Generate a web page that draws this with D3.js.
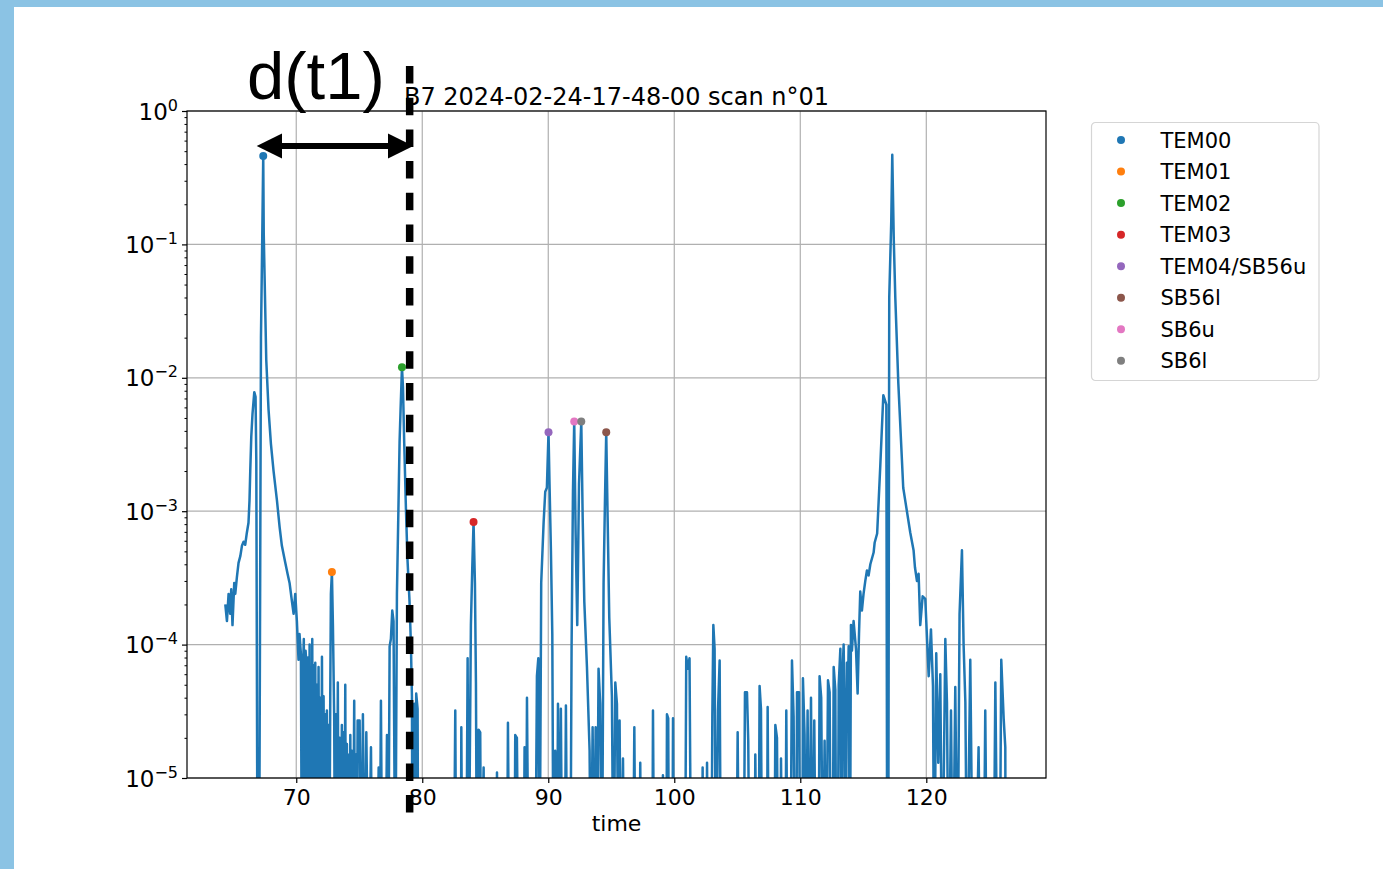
<!DOCTYPE html>
<html>
<head>
<meta charset="utf-8">
<script src="https://cdn.jsdelivr.net/npm/d3@7"></script>
<style>
  html, body { margin: 0; padding: 0; background: #ffffff; }
  svg { display: block; }
</style>
</head>
<body>
<div id="chart"></div>
<script>
// scan trace: [time, power]; 1e-6 = below the axis floor
var trace = [
  [64.37,2.0e-4],[64.5,1.5e-4],[64.63,2.4e-4],[64.76,1.7e-4],[64.84,2.6e-4],[64.94,1.4e-4],[65.08,2.9e-4],[65.16,2.4e-4],
  [65.29,3.2e-4],[65.42,4.1e-4],[65.56,4.6e-4],[65.69,5.5e-4],[65.82,5.9e-4],[65.95,5.6e-4],[66.08,6.9e-4],[66.21,8.2e-4],
  [66.29,1.2e-3],[66.35,2.0e-3],[66.43,3.6e-3],[66.53,5.4e-3],[66.67,7.8e-3],[66.77,7.2e-3],[66.83,2.4e-3],[66.93,1e-6],
  [67.05,1e-6],[67.2,2e-2],[67.3,0.11],[67.38,0.46],[67.42,0.12],[67.5,0.05],[67.62,0.0136],
  [67.8,5.8e-3],[67.99,3.2e-3],[68.2,2.0e-3],[68.47,1.2e-3],[68.68,7.6e-4],[68.86,5.5e-4],[69.13,4.1e-4],[69.31,3.4e-4],
  [69.47,2.9e-4],[69.66,2.1e-4],[69.79,1.7e-4],[69.92,2.4e-4],[70.05,1.5e-4],[70.18,7.7e-5],[70.26,1.2e-4],[70.37,8.5e-5],
  [70.45,1e-6],[70.53,6.0e-5],[70.6,1.1e-4],[70.68,1e-6],[70.74,9.0e-5],[70.79,7.7e-5],[70.86,1e-6],[70.93,8.0e-5],
  [71.0,1e-6],[71.06,1.0e-4],[71.12,1e-6],[71.16,6.0e-5],[71.22,1e-6],[71.27,1.1e-4],[71.33,1e-6],[71.4,7.0e-5],
  [71.46,1e-6],[71.51,7.3e-5],[71.58,1e-6],[71.64,5.0e-5],[71.7,1e-6],[71.77,6.8e-5],[71.84,1e-6],[71.9,4.0e-5],
  [71.97,1e-6],[72.04,8.1e-5],[72.1,1e-6],[72.17,4.1e-5],[72.24,1e-6],[72.3,3.0e-5],[72.36,1e-6],[72.43,3.2e-5],
  [72.5,1e-6],[72.56,2.5e-5],[72.62,1e-6],[72.7,4.3e-5],[72.75,2.4e-4],[72.83,3.5e-4],[72.91,1.4e-4],[73.01,2.9e-5],
  [73.08,1e-6],[73.15,3.0e-5],[73.22,1e-6],[73.3,5.2e-5],[73.37,1e-6],[73.44,2.0e-5],[73.52,1e-6],[73.62,2.5e-5],
  [73.7,1e-6],[73.76,2.2e-5],[73.82,1e-6],[73.89,5.0e-5],[73.95,1e-6],[74.02,1.8e-5],[74.1,1e-6],[74.2,1.5e-5],
  [74.25,1e-6],[74.29,2.1e-5],[74.36,1e-6],[74.42,1.6e-5],[74.5,1e-6],[74.6,3.8e-5],[74.67,1e-6],[74.74,1.5e-5],
  [74.8,1e-6],[74.87,2.7e-5],[75.03,2.7e-5],[75.14,1e-6],[75.29,3.0e-5],[75.42,1e-6],[75.56,2.2e-5],[75.74,1e-6],
  [75.93,1.7e-5],[76.04,1e-6],[76.4,1e-6],[76.54,1.2e-5],[76.62,1e-6],[76.72,3.8e-5],[76.83,1e-6],[77.07,1e-6],
  [77.2,2.1e-5],[77.3,1e-6],[77.41,9.7e-5],[77.51,1.1e-4],[77.62,1.8e-4],[77.72,1.5e-4],[77.86,1e-6],[77.99,2.4e-4],
  [78.12,1.2e-3],[78.2,3.3e-3],[78.28,5.8e-3],[78.39,0.012],[78.47,8.5e-3],[78.57,3.2e-3],[78.71,1.0e-3],[78.83,4.3e-4],
  [78.99,2.1e-4],[79.1,1.0e-4],[79.18,4.1e-5],[79.23,1e-6],[79.37,3.6e-5],[79.44,1e-6],[79.52,4.3e-5],[79.63,3.3e-5],
  [79.68,1e-6],
  [82.5,1e-6],[82.62,3.2e-5],[82.7,1e-6],[83.06,1e-6],[83.1,2.4e-5],[83.18,1e-6],[83.49,1e-6],[83.6,7.9e-5],
  [83.68,1e-6],[83.86,1.4e-4],[83.97,3.8e-4],[84.07,8.3e-4],[84.18,2.9e-4],[84.26,5.2e-5],[84.34,1e-6],[84.47,2.3e-5],
  [84.6,2.2e-5],[84.68,1e-6],[84.87,1.2e-5],[84.94,1e-6],[85.87,1e-6],[85.93,1.1e-5],[86.0,1e-6],[86.72,1e-6],
  [86.8,2.6e-5],[86.91,1e-6],[87.31,1e-6],[87.38,2.1e-5],[87.51,2.0e-5],[87.64,1e-6],[88.04,1e-6],[88.12,1.7e-5],
  [88.23,1e-6],[88.31,4.0e-5],[88.44,1e-6],[88.97,1e-6],[89.1,5.8e-5],[89.21,7.9e-5],[89.31,1e-6],[89.44,2.9e-4],
  [89.63,8.2e-4],[89.76,1.4e-3],[89.89,1.5e-3],[90.02,3.9e-3],[90.1,1.6e-3],[90.21,5.1e-4],[90.32,1.2e-4],[90.42,1e-6],
  [90.55,1.6e-5],[90.69,1e-6],[90.77,3.6e-5],[90.9,1e-6],[91.0,3.3e-5],[91.11,1e-6],[91.3,1e-6],[91.4,3.5e-5],
  [91.51,1e-6],[91.75,1e-6],[91.85,9.4e-5],[91.96,1.4e-3],[92.06,4.7e-3],[92.17,7.0e-4],[92.3,1.4e-4],[92.44,1.6e-3],
  [92.62,4.7e-3],[92.73,9.0e-4],[92.86,2.1e-4],[93.07,6.8e-5],[93.28,1.6e-5],[93.38,1e-6],[93.52,2.4e-5],[93.65,1e-6],
  [93.76,2.4e-5],[93.86,1e-6],[93.99,6.6e-5],[94.12,3.6e-5],[94.26,1e-6],[94.39,2.9e-4],[94.5,1.2e-3],[94.6,3.9e-3],
  [94.71,9.0e-4],[94.84,1.6e-4],[95.05,4.1e-5],[95.18,1e-6],[95.32,5.2e-5],[95.45,3.6e-5],[95.58,1e-6],[95.66,2.7e-5],
  [95.77,1e-6],[95.93,1.4e-5],[96.03,1e-6],[96.72,1e-6],[96.83,2.4e-5],[96.93,1e-6],[97.22,1e-6],[97.3,1.3e-5],
  [97.38,1e-6],
  [98.25,1e-6],[98.31,3.2e-5],[98.41,1e-6],[99.05,1e-6],[99.1,1.05e-5],[99.16,1e-6],[99.37,1e-6],[99.42,3.0e-5],
  [99.52,2.8e-5],[99.58,1e-6],[99.84,1e-6],[99.9,2.8e-5],[99.98,1e-6],[100.85,1e-6],[100.95,8.1e-5],[101.08,6.6e-5],
  [101.21,7.9e-5],[101.34,1e-6],[102.2,1e-6],[102.25,1.2e-5],[102.33,1e-6],[102.54,1e-6],[102.6,1.3e-5],[102.68,1e-6],
  [102.94,1e-6],[103.02,2.9e-5],[103.1,1.4e-4],[103.2,9.3e-5],[103.31,1e-6],[103.47,3.2e-5],[103.6,7.6e-5],[103.7,1e-6],
  [104.92,1e-6],[105.03,2.2e-5],[105.14,1e-6],[105.5,1e-6],[105.61,4.4e-5],[105.77,4.4e-5],[105.87,1.9e-5],[105.98,1e-6],
  [106.37,1e-6],[106.43,1.5e-5],[106.56,1e-6],[106.69,1e-6],[106.77,4.9e-5],[106.88,3.3e-5],[106.98,1e-6],[107.35,1e-6],
  [107.41,3.4e-5],[107.51,1e-6],[107.94,1e-6],[108.02,2.5e-5],[108.15,2.0e-5],[108.25,1e-6],[108.41,1e-6],[108.47,1.4e-5],
  [108.57,1e-6],[108.81,1e-6],[108.89,3.2e-5],[108.99,1e-6],[109.21,1e-6],[109.34,7.6e-5],[109.47,2.9e-5],[109.58,1e-6],
  [109.68,1e-6],[109.74,4.4e-5],[109.9,4.4e-5],[110.0,1e-6],[110.16,1e-6],[110.21,5.6e-5],[110.34,2.1e-5],[110.45,1e-6],
  [110.58,3.2e-5],[110.71,1e-6],[110.85,4.0e-5],[110.98,1e-6],[111.11,2.7e-5],[111.24,1e-6],[111.45,1e-6],[111.53,5.8e-5],
  [111.66,4.0e-5],[111.8,1e-6],[111.93,1.9e-5],[112.06,1e-6],[112.2,5.4e-5],[112.33,4.4e-5],[112.43,1e-6],[112.57,1e-6],
  [112.65,6.8e-5],[112.78,4.6e-5],[112.86,1e-6],[112.97,1e-6],[113.05,5.0e-5],[113.18,9.3e-5],[113.29,1e-6],[113.37,6.8e-5],
  [113.44,1.0e-4],[113.52,3.0e-5],[113.6,1e-6],[113.7,7.3e-5],[113.77,4.0e-5],[113.84,9.7e-5],[113.94,1e-6],[114.02,1.4e-4],
  [114.1,9.0e-5],[114.23,1.5e-4],[114.42,9.3e-5],
  [114.55,4.3e-5],[114.66,1.2e-4],[114.76,2.5e-4],[114.89,1.8e-4],[115.02,2.4e-4],[115.16,3.0e-4],[115.29,3.6e-4],[115.42,3.3e-4],
  [115.56,4.0e-4],[115.82,4.9e-4],[115.9,5.8e-4],[116.1,6.8e-4],[116.35,2.2e-3],[116.59,7.4e-3],[116.83,6.3e-3],[116.9,1e-6],
  [116.98,1e-6],[117.06,0.04],[117.22,0.15],[117.3,0.47],[117.42,0.108],[117.54,0.04],[117.78,9.1e-3],[118.17,1.5e-3],
  [118.33,1.2e-3],[118.73,6.9e-4],[118.99,5.1e-4],[119.1,3.8e-4],[119.26,3.0e-4],[119.39,3.4e-4],[119.52,1.4e-4],[119.71,2.3e-4],
  [119.92,2.2e-4],[120.19,5.8e-5],[120.37,1.3e-4],[120.53,4.9e-5],[120.63,1e-6],[120.79,8.6e-5],[120.95,1.3e-5],[121.11,6.0e-5],
  [121.27,1e-6],[121.51,1.1e-4],[121.64,3.7e-5],[121.77,1e-6],[121.96,3.2e-5],[122.11,1e-6],[122.3,4.8e-5],[122.48,1e-6],
  [122.64,1.7e-4],[122.83,5.1e-4],[122.96,1.0e-4],[123.1,3.7e-5],[123.24,1e-6],[123.49,7.7e-5],[123.7,1e-6],[123.89,1e-6],
  [124.15,1.7e-5],[124.29,1e-6],[124.55,1e-6],[124.68,3.2e-5],[124.82,1e-6],[125.34,1e-6],[125.48,5.2e-5],[125.66,1e-6],
  [125.82,1e-6],[125.95,7.7e-5],[126.14,2.8e-5],[126.27,1.7e-5],[126.3,1e-6]
];

var peakNames  = ["TEM00", "TEM01", "TEM02", "TEM03", "TEM04/SB56u", "SB56l", "SB6u", "SB6l"];
var peakTimes  = [67.38, 72.83, 78.39, 84.07, 90.02, 94.6, 92.06, 92.62];
var peakValues = [0.46, 3.5e-4, 0.012, 8.3e-4, 3.9e-3, 3.9e-3, 4.7e-3, 4.7e-3];

var xTicks = [70, 80, 90, 100, 110, 120];
var yExponents = [0, -1, -2, -3, -4, -5];
var title = "B7 2024-02-24-17-48-00 scan n\u00b001";
var xLabel = "time";
var markTime = 79.0;   // dashed marker for d(t1)

var W = 1383, H = 869;
var plot = { left: 187, right: 1046, top: 111, bottom: 778 };
var font = "'DejaVu Sans', sans-serif";

var svg = d3.select("#chart").append("svg")
    .attr("width", W)
    .attr("height", H);

// slide frame
svg.append("rect").attr("width", W).attr("height", H).attr("fill", "#ffffff");
svg.append("rect").attr("width", W).attr("height", 7).attr("fill", "#8bc3e4");
svg.append("rect").attr("width", 14).attr("height", H).attr("fill", "#8bc3e4");

var x = d3.scaleLinear().domain([61.33, 129.5]).range([plot.left, plot.right]);
var y = d3.scaleLog().domain([1e-5, 1]).range([plot.bottom, plot.top]);
var color = d3.scaleOrdinal().domain(peakNames).range(d3.schemeCategory10);

var majorY = yExponents.map(function (e) { return Math.pow(10, e); });
var minorY = [];
yExponents.slice(1).forEach(function (e) {
    for (var k = 2; k <= 9; k++) minorY.push(k * Math.pow(10, e));
});

// grid
var grid = svg.append("g");
grid.selectAll(".gx").data(xTicks).enter().append("line")
    .attr("x1", function (d) { return x(d); }).attr("x2", function (d) { return x(d); })
    .attr("y1", plot.top).attr("y2", plot.bottom)
    .attr("stroke", "#b0b0b0").attr("stroke-width", 1.2);
grid.selectAll(".gy").data(majorY).enter().append("line")
    .attr("x1", plot.left).attr("x2", plot.right)
    .attr("y1", function (d) { return y(d); }).attr("y2", function (d) { return y(d); })
    .attr("stroke", "#b0b0b0").attr("stroke-width", 1.2);

svg.append("clipPath").attr("id", "plot-clip")
    .append("rect")
    .attr("x", plot.left).attr("y", plot.top)
    .attr("width", plot.right - plot.left).attr("height", plot.bottom - plot.top);

var line = d3.line()
    .x(function (d) { return x(d[0]); })
    .y(function (d) { return y(d[1]); });

svg.append("path")
    .datum(trace)
    .attr("clip-path", "url(#plot-clip)")
    .attr("d", line)
    .attr("fill", "none")
    .attr("stroke", "#1f77b4")
    .attr("stroke-width", 2.5)
    .attr("stroke-linejoin", "round");

svg.selectAll(".peak").data(peakNames).enter().append("circle")
    .attr("class", "peak")
    .attr("cx", function (d, i) { return x(peakTimes[i]); })
    .attr("cy", function (d, i) { return y(peakValues[i]); })
    .attr("r", 4)
    .attr("fill", function (d) { return color(d); });

// axes
var xAxis = svg.append("g")
    .attr("transform", "translate(0," + plot.bottom + ")")
    .call(d3.axisBottom(x).tickValues(xTicks).tickSize(5).tickSizeOuter(0).tickPadding(6).tickFormat(d3.format("d")));
xAxis.select(".domain").remove();
xAxis.selectAll("line").attr("stroke", "#000").attr("stroke-width", 1.2);
xAxis.selectAll("text").style("font-family", font).style("font-size", "22px").attr("fill", "#000");

var yAxis = svg.append("g")
    .attr("transform", "translate(" + plot.left + ",0)")
    .call(d3.axisLeft(y).tickValues(majorY).tickSize(5).tickSizeOuter(0).tickFormat(""));
yAxis.select(".domain").remove();
yAxis.selectAll("line").attr("stroke", "#000").attr("stroke-width", 1.2);

var yMinor = svg.append("g")
    .attr("transform", "translate(" + plot.left + ",0)")
    .call(d3.axisLeft(y).tickValues(minorY).tickSize(2.5).tickSizeOuter(0).tickFormat(""));
yMinor.select(".domain").remove();
yMinor.selectAll("line").attr("stroke", "#000").attr("stroke-width", 1);

var yLabels = svg.append("g").selectAll("text").data(yExponents).enter().append("text")
    .attr("x", plot.left - 9)
    .attr("y", function (e) { return y(Math.pow(10, e)) + 8.5; })
    .attr("text-anchor", "end")
    .style("font-family", font)
    .style("font-size", "23px");
yLabels.append("tspan").text("10");
yLabels.append("tspan")
    .attr("dy", -9)
    .style("font-size", "16px")
    .text(function (e) { return e === 0 ? "0" : "\u2212" + Math.abs(e); });

svg.append("rect")
    .attr("x", plot.left).attr("y", plot.top)
    .attr("width", plot.right - plot.left).attr("height", plot.bottom - plot.top)
    .attr("fill", "none").attr("stroke", "#000").attr("stroke-width", 1.2);

svg.append("text")
    .attr("x", (plot.left + plot.right) / 2).attr("y", 831)
    .attr("text-anchor", "middle")
    .style("font-family", font).style("font-size", "22px")
    .text(xLabel);

svg.append("text")
    .attr("x", (plot.left + plot.right) / 2).attr("y", 104.5)
    .attr("text-anchor", "middle")
    .style("font-family", font).style("font-size", "24px")
    .text(title);

// legend
var legend = svg.append("g").attr("transform", "translate(1091.5,122.5)");
legend.append("rect")
    .attr("width", 227.5).attr("height", 258)
    .attr("rx", 4).attr("ry", 4)
    .attr("fill", "#fff").attr("stroke", "#d5d5d5").attr("stroke-width", 1.2);
var rows = legend.selectAll(".row").data(peakNames).enter().append("g")
    .attr("transform", function (d, i) { return "translate(0," + (17.5 + i * 31.55) + ")"; });
rows.append("circle").attr("cx", 29.5).attr("cy", 0).attr("r", 4)
    .attr("fill", function (d) { return color(d); });
rows.append("text").attr("x", 69).attr("y", 7.5)
    .style("font-family", font).style("font-size", "21px")
    .text(function (d) { return d; });

// d(t1) annotation
var ann = svg.append("g");
ann.append("line")
    .attr("x1", 276).attr("x2", 394).attr("y1", 146).attr("y2", 146)
    .attr("stroke", "#000").attr("stroke-width", 6);
ann.append("path").attr("d", "M256.7,146 L282,133.5 L282,158.5 Z").attr("fill", "#000");
ann.append("path").attr("d", "M413.3,146 L388,133.5 L388,158.5 Z").attr("fill", "#000");
ann.append("text")
    .attr("x", 247).attr("y", 99)
    .style("font-family", "'Liberation Sans', Arial, sans-serif")
    .style("font-size", "67px")
    .text("d(t1)");
ann.append("line")
    .attr("x1", x(markTime)).attr("x2", x(markTime))
    .attr("y1", 66).attr("y2", 818)
    .attr("stroke", "#000").attr("stroke-width", 7.5)
    .attr("stroke-dasharray", "17.5,14.2");
</script>
</body>
</html>
